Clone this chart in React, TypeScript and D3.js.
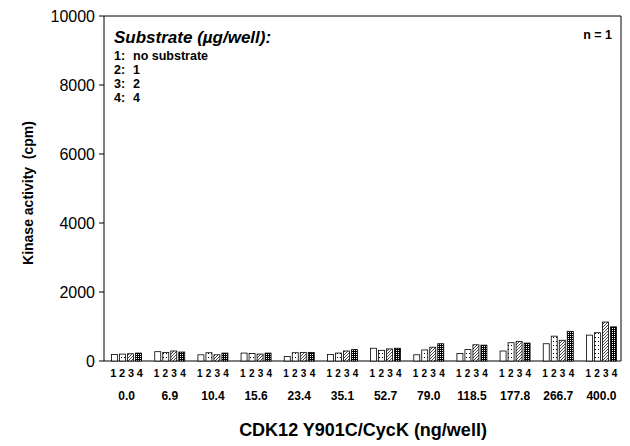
import React from "react";
import * as d3 from "d3";

const categories = ["0.0", "6.9", "10.4", "15.6", "23.4", "35.1", "52.7", "79.0", "118.5", "177.8", "266.7", "400.0"];
const substrates = ["1", "2", "3", "4"];
const substrateLabels = ["no substrate", "1", "2", "4"];
// cpm per substrate amount (series) for each enzyme concentration
const s1 = [190, 270, 180, 230, 130, 190, 370, 180, 220, 290, 500, 750];
const s2 = [200, 250, 240, 220, 240, 230, 310, 320, 330, 530, 720, 820];
const s3 = [210, 290, 180, 200, 250, 290, 350, 400, 470, 570, 600, 1130];
const s4 = [230, 260, 230, 230, 250, 330, 370, 500, 460, 520, 860, 990];
const series = [s1, s2, s3, s4];
const yTicks = [0, 2000, 4000, 6000, 8000, 10000];

const W = 630;
const H = 446;
const left = 104;
const right = 621;
const top = 16;
const bottom = 361;

const fills = ["#fff", "url(#pDots)", "url(#pHatch)", "url(#pCheck)"];
const font = "Arial, 'Liberation Sans', sans-serif";

export default function App() {
  const y = d3.scaleLinear().domain([0, 10000]).range([bottom, top]);
  const x = d3.scaleBand<string>().domain(categories).range([105, 623]);
  const inner = d3.scaleBand<string>().domain(substrates).range([-15, 15]).paddingInner(0.25);
  const bold = { fontFamily: font, fontWeight: "bold" as const };

  return (
    <svg width={W} height={H} style={{ position: "absolute", left: 0, top: 0 }}>
      <defs>
        <pattern id="pDots" width="3" height="4" patternUnits="userSpaceOnUse">
          <rect width="3" height="4" fill="#fff" />
          <rect x="1" y="1" width="1" height="1" fill="#000" />
        </pattern>
        <pattern id="pHatch" width="3" height="3" patternUnits="userSpaceOnUse">
          <rect width="3" height="3" fill="#fff" />
          <path d="M-1,1 L1,-1 M0,3 L3,0 M2,4 L4,2" stroke="#333" strokeWidth="0.9" />
        </pattern>
        <pattern id="pCheck" width="2" height="2" patternUnits="userSpaceOnUse">
          <rect width="2" height="2" fill="#000" />
          <rect x="0" y="0" width="1" height="1" fill="#fff" />
        </pattern>
      </defs>
      <rect width={W} height={H} fill="#fff" />

      {/* frame */}
      <path d={`M${left},${top} H${right} V${bottom} H${left} Z`} fill="none" stroke="#000" strokeWidth={1} />

      {/* y axis ticks */}
      {yTicks.map((t) => (
        <g key={t}>
          <line x1={left - 5} x2={left} y1={y(t)} y2={y(t)} stroke="#000" />
          <text x={left - 9} y={y(t) + 5.7} textAnchor="end" fontFamily={font} fontSize={16}>
            {t}
          </text>
        </g>
      ))}

      {/* bars */}
      {categories.map((c, i) => {
        const cx = (x(c) ?? 0) + x.bandwidth() / 2;
        return (
          <g key={c}>
            {series.map((s, j) => (
              <rect
                key={j}
                x={cx + (inner(substrates[j]) ?? 0)}
                width={inner.bandwidth()}
                y={y(s[i])}
                height={bottom - y(s[i])}
                fill={fills[j]}
                stroke="#000"
                strokeWidth={0.8}
              />
            ))}
            {substrates.map((sub) => (
              <text
                key={sub}
                x={cx + ((inner(sub) ?? 0) + inner.bandwidth() / 2) * 1.1}
                y={377}
                textAnchor="middle"
                {...bold}
                fontSize={i === 0 ? 11 : 10}
              >
                {sub}
              </text>
            ))}
            <text x={cx} y={399.5} textAnchor="middle" {...bold} fontSize={12}>
              {c}
            </text>
          </g>
        );
      })}

      {/* legend */}
      <text x={114} y={43} {...bold} fontStyle="italic" fontSize={17}>
        Substrate (µg/well):
      </text>
      {substrates.map((sub, i) => (
        <text key={sub} x={114} y={59.5 + i * 14} {...bold} fontSize={12.5}>
          {sub}:
          <tspan x={133}>{substrateLabels[i]}</tspan>
        </text>
      ))}
      <text x={612} y={39} textAnchor="end" {...bold} fontSize={12.5}>
        n = 1
      </text>

      {/* axis titles */}
      <text x={363} y={436} textAnchor="middle" {...bold} fontSize={18}>
        CDK12 Y901C/CycK (ng/well)
      </text>
      <text transform={`translate(33,193) rotate(-90)`} textAnchor="middle" {...bold} fontSize={14} xmlSpace="preserve">
        Kinase activity  (cpm)
      </text>
    </svg>
  );
}
